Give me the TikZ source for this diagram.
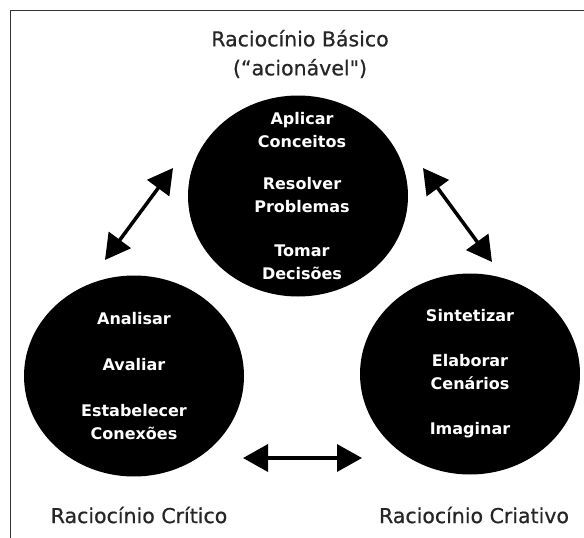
\documentclass[tikz,border=0pt]{standalone}
\usepackage{fontspec}
\setmainfont{DejaVu Sans}
\newfontfamily\titlefont[FakeBold=0.6]{DejaVu Sans}
\usetikzlibrary{arrows.meta,shapes.geometric}

\begin{document}
\begin{tikzpicture}[x=1pt,y=-1pt] % coordenadas em pixels, y para baixo
\tikzstyle{blob} = [ellipse, fill=black, minimum width=220pt, minimum height=201pt, inner sep=0pt] % disco preto
\tikzstyle{blobtext} = [text=white, font=\bfseries\fontsize{16}{23}\selectfont, align=center] % texto dentro do disco
\tikzstyle{title} = [text=black!85, font=\titlefont\fontsize{20.5}{29}\selectfont, align=center] % nome do raciocinio
\tikzstyle{twoway} = [{Triangle[length=25pt,width=27pt]}-{Triangle[length=25pt,width=27pt]}, line width=3.5pt] % seta dupla

\useasboundingbox (0,0) rectangle (584,538);
\draw[line width=1pt, black!80] (10.5,538) -- (10.5,10.5) -- (584,10.5); % moldura

\node[blob] (basico) at (298,196) {};
\node[blob] (critico) at (134,376) {};
\node[blob] (criativo) at (470,374) {};

\node[blobtext] (basicotxt) at ([xshift=4pt]basico.center) {Aplicar\\Conceitos\\[19pt]Resolver\\Problemas\\[21pt]Tomar\\Decisões};
\node[blobtext] (criticotxt) at (critico.center) {Analisar\\[23pt]Avaliar\\[23pt]Estabelecer\\Conexões};
\node[blobtext] (criativotxt) at (criativo.center) {Sintetizar\\[22pt]Elaborar\\Cenários\\[22pt]Imaginar};

\node[title] (basicolbl) at (300,54) {Raciocínio Básico\\(“acionável")};
\node[title] (criticolbl) at (139,515) {Raciocínio Crítico};
\node[title] (criativolbl) at (474,515) {Raciocínio Criativo};

% setas entre os discos
\coordinate (c1) at (105,260);
\coordinate (b1) at (173,168);
\coordinate (b2) at (423,168);
\coordinate (r1) at (492,262);
\coordinate (c2) at (243,458);
\coordinate (r2) at (362,458);
\draw[twoway] (c1) -- (b1);
\draw[twoway] (b2) -- (r1);
\draw[twoway] (c2) -- (r2);
\end{tikzpicture}
\end{document}
